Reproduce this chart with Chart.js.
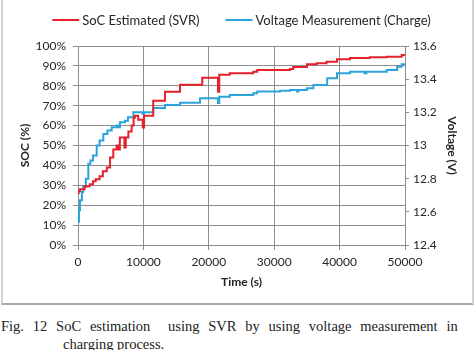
<!DOCTYPE html>
<html>
<head>
<meta charset="utf-8">
<script src="https://cdn.jsdelivr.net/npm/chart.js@4"></script>
<style>
  html, body { margin: 0; padding: 0; background: #fff; }
  body { width: 474px; height: 350px; position: relative; overflow: hidden; }
  #frame {
    position: absolute; left: 1px; top: -4px; width: 469px; height: 307px;
    border-left: 2px solid #d2d2d2; border-right: 2px solid #d2d2d2; border-bottom: 2px solid #a9a9a9;
  }
  #wrap { position: absolute; left: 4px; top: 0; width: 466px; height: 304px; }
  .caption {
    position: absolute; font-family: "Liberation Serif", serif; font-size: 14.5px;
    color: #222; white-space: nowrap;
  }
</style>
</head>
<body>
<div id="frame"></div>
<div id="wrap"><canvas id="chart"></canvas></div>
<div class="caption" style="left:1px; top:318px; word-spacing:5.2px;">Fig. 12 SoC estimation &nbsp;using SVR by using voltage measurement in</div>
<div class="caption" style="left:63px; top:336px;">charging process.</div>
<script>
// SoC estimated by SVR (%), step points: time (s) -> new level
const socTime  = [0, 100, 300, 1000, 1800, 2300, 2700, 3300, 3800, 4400, 4900, 5400, 5900, 6100, 6400, 7100, 7300,
                  7700, 8200, 8500, 8700, 9200, 9900, 10100, 11500, 13300, 15600, 19000, 21400, 21600, 21900,
                  23200, 26800, 27400, 32400, 32900, 35000, 36500, 38000, 39600, 41600, 44600, 47200, 49500, 50000];
const socValue = [26, 27, 28, 29.5, 30.5, 32, 33, 34.5, 37, 39, 44, 48, 50, 48, 54, 49, 54,
                  57, 60, 64, 65, 63, 59, 65, 72.5, 77, 80.5, 84, 77, 85.5, 85.5,
                  86.3, 87, 88, 88.5, 89.4, 90.8, 91.3, 92.1, 93.3, 94, 94.3, 94.6, 95.5, 95.5];

// Voltage measurement during charge (V)
const voltTime  = [0, 150, 300, 600, 800, 1200, 1580, 1900, 2300, 2860, 3300, 3870, 4500, 5150, 5920, 6200, 6420,
                   7190, 7640, 8460, 9900, 10100, 11500, 13300, 15600, 18650, 21400, 21600,
                   23200, 26800, 27400, 30900, 32400, 33500, 33700, 35000, 36000, 38100, 39600, 41600,
                   43800, 44100, 47200, 48800, 49500, 50000];
const voltValue = [12.54, 12.61, 12.67, 12.72, 12.75, 12.80, 12.89, 12.91, 12.94, 13.0, 13.03, 13.07, 13.09, 13.11, 13.12, 13.11, 13.14,
                   13.15, 13.17, 13.2, 13.19, 13.2, 13.226, 13.244, 13.258, 13.285, 13.256, 13.294,
                   13.305, 13.315, 13.325, 13.33, 13.335, 13.325, 13.335, 13.345, 13.365, 13.405, 13.435, 13.445,
                   13.435, 13.445, 13.455, 13.475, 13.49, 13.49];

const timeTicks = [0, 10000, 20000, 30000, 40000, 50000];
const socTicks  = [0, 10, 20, 30, 40, 50, 60, 70, 80, 90, 100];
const voltTicks = [12.4, 12.6, 12.8, 13, 13.2, 13.4, 13.6];

const RED = '#e5212b';
const BLUE = '#2ba4dc';
const GRID = '#8e8e8e';
const FONT = 'Lato';

const setTicks = (values) => (scale) => { scale.ticks = values.map(v => ({ value: v })); };

// legend drawn above the plot, centred over the chart area
const topLegend = {
    id: 'topLegend',
    afterDraw(chart) {
        const ctx = chart.ctx;
        const sets = chart.data.datasets;
        ctx.save();
        ctx.font = '13px ' + FONT;
        ctx.textBaseline = 'middle';
        const lineW = 27, gapText = 3, gapItem = 26;
        const widths = sets.map(d => ctx.measureText(d.label).width);
        const total = widths.reduce((a, w) => a + lineW + gapText + w, 0) + gapItem * (sets.length - 1);
        let x = (chart.chartArea.left + chart.chartArea.right) / 2 - total / 2;
        const y = 20;
        sets.forEach((d, i) => {
            ctx.strokeStyle = d.borderColor;
            ctx.lineWidth = 2;
            ctx.beginPath();
            ctx.moveTo(x, y);
            ctx.lineTo(x + lineW, y);
            ctx.stroke();
            ctx.fillStyle = '#262626';
            ctx.fillText(d.label, x + lineW + gapText, y + 1);
            x += lineW + gapText + widths[i] + gapItem;
        });
        ctx.restore();
    }
};

new Chart(document.getElementById('chart'), {
    type: 'line',
    data: {
        datasets: [
            {
                label: 'SoC Estimated (SVR)',
                data: socTime.map((t, i) => ({ x: t, y: socValue[i] })),
                borderColor: RED,
                backgroundColor: RED,
                borderWidth: 2,
                stepped: true,
                pointRadius: 0,
                yAxisID: 'ySoc'
            },
            {
                label: 'Voltage Measurement (Charge)',
                data: voltTime.map((t, i) => ({ x: t, y: voltValue[i] })),
                borderColor: BLUE,
                backgroundColor: BLUE,
                borderWidth: 2,
                stepped: true,
                pointRadius: 0,
                yAxisID: 'yVolt'
            }
        ]
    },
    options: {
        responsive: true,
        maintainAspectRatio: false,
        animation: false,
        layout: { padding: { top: 46, left: 0, right: 0, bottom: 0 } },
        plugins: {
            legend: { display: false },
            tooltip: { enabled: false }
        },
        scales: {
            x: {
                type: 'linear',
                min: 0,
                max: 50000,
                afterBuildTicks: setTicks(timeTicks),
                afterFit: (s) => { s.height = 59; },
                grid: { color: GRID, tickLength: 5 },
                border: { color: GRID },
                ticks: { color: '#262626', font: { family: FONT, size: 12 }, padding: 5, maxRotation: 0,
                         callback: (v) => String(v) },
                title: { display: true, text: 'Time (s)', color: '#262626',
                         font: { family: FONT, size: 12, weight: 'bold' }, padding: { top: 0, bottom: 14.8 } }
            },
            ySoc: {
                position: 'left',
                min: 0,
                max: 100,
                afterBuildTicks: setTicks(socTicks),
                afterFit: (s) => { s.width = 74; },
                grid: { color: GRID, tickLength: 5 },
                border: { color: GRID },
                ticks: { color: '#262626', font: { family: FONT, size: 12 }, padding: 7,
                         callback: (v) => v + '%' },
                title: { display: true, text: 'SOC (%)', color: '#262626',
                         font: { family: FONT, size: 12, weight: 'bold' }, padding: { top: 13.8, bottom: 0 } }
            },
            yVolt: {
                position: 'right',
                min: 12.4,
                max: 13.6,
                afterBuildTicks: setTicks(voltTicks),
                afterFit: (s) => { s.width = 65; },
                grid: { drawOnChartArea: false, color: GRID, tickLength: 4 },
                border: { color: GRID },
                ticks: { color: '#262626', font: { family: FONT, size: 12 }, padding: 4,
                         callback: (v) => String(v) },
                title: { display: true, text: 'Voltage (V)', color: '#262626',
                         font: { family: FONT, size: 12, weight: 'bold' }, padding: { top: 10.8, bottom: 0 } }
            }
        }
    },
    plugins: [topLegend]
});
</script>
</body>
</html>
